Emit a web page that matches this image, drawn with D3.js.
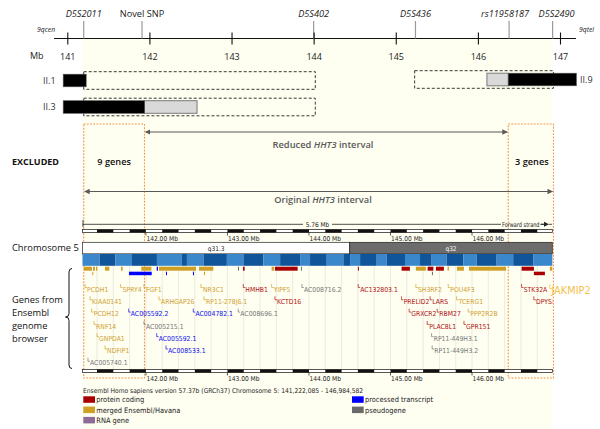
<!DOCTYPE html>
<html><head><meta charset="utf-8">
<script src="https://cdn.jsdelivr.net/npm/d3@7"></script>
<style>
body{margin:0;background:#fff}
svg{display:block}
.os{font-family:'Open Sans',sans-serif}
.ens{font-family:'DejaVu Sans Condensed','DejaVu Sans',sans-serif;font-stretch:condensed}
</style>
</head><body><svg id="c" width="600" height="429"></svg>
<script>
// ---------------- DATA ----------------
const axisTicks = [141, 142, 143, 144, 145, 146, 147];
const markerNames = ["D5S2011", "Novel SNP", "D5S402", "D5S436", "rs11958187", "D5S2490"];
const markerMb = [141.2, 141.91, 144.0, 145.24, 146.38, 146.91];
const markerItalic = [true, false, true, true, true, true];
const patients = ["II.1", "II.3", "II.9"];
const hapBlack = [[140.95, 141.23], [140.95, 141.94], [146.37, 147.2]];
const hapGray = [null, [141.94, 142.58], [146.11, 146.37]];
const hapUninformative = [[141.2, 144.02], [141.2, 144.02], [145.23, 146.92]];
const originalInterval = [141.2, 146.92];
const reducedInterval = [141.94, 146.37];
const excludedGenes = ["9 genes", "3 genes"];
const ensemblRange = [141222085, 146984582];
const ensemblTicks = [142, 143, 144, 145, 146];
const ideoNames = ["q31.3", "q32"];
const ideoStarts = [141.222, 144.5];
const ideoEnds = [144.5, 146.985];
const contigBreaks = [141.222, 141.432, 141.624, 141.829, 142.135, 142.441, 142.503, 142.706, 142.993,
  143.196, 143.441, 143.646, 143.891, 144.013, 144.218, 144.422, 144.504, 144.627, 144.831, 144.954,
  145.178, 145.362, 145.505, 145.689, 145.892, 146.057, 146.302, 146.505, 146.750, 146.985];
// [start Mb, end Mb, type, track row]  r=protein coding, m=merged, p=processed, g=pseudogene
const geneBlocks = [
  [141.240, 141.338, "m", 0], [141.351, 141.375, "m", 0], [141.388, 141.404, "m", 0],
  [141.498, 141.551, "m", 0], [141.694, 141.715, "m", 0], [141.943, 142.067, "m", 0],
  [142.132, 142.148, "p", 0], [142.160, 142.614, "m", 0], [142.651, 142.826, "m", 0],
  [143.129, 143.141, "g", 0], [143.190, 143.211, "r", 0], [143.542, 143.570, "m", 0],
  [143.582, 143.861, "r", 0], [143.901, 143.910, "g", 0], [144.600, 144.612, "r", 0],
  [145.136, 145.238, "r", 0], [145.311, 145.434, "m", 0], [145.455, 145.526, "r", 0],
  [145.557, 145.655, "r", 0], [145.700, 145.716, "m", 0], [145.815, 145.901, "m", 0],
  [145.963, 146.417, "m", 0], [146.608, 146.759, "r", 0], [146.955, 146.985, "m", 0],
  [141.342, 141.354, "m", 1], [141.792, 142.071, "p", 1], [142.246, 142.255, "p", 1],
  [142.577, 142.586, "p", 1], [142.712, 142.720, "m", 1], [145.508, 145.520, "g", 1],
  [146.759, 146.894, "r", 1]
];
// [name, Mb, label row, type]
const geneLabels = [
  ["PCDH1", 141.253, 0, "m"], ["SPRY4", 141.690, 0, "m"], ["FGF1", 141.976, 0, "m"],
  ["KIAA0141", 141.314, 1, "m"], ["ARHGAP26", 142.160, 1, "m"], ["PCDH12", 141.335, 2, "m"],
  ["AC005592.2", 141.789, 2, "p"], ["RNF14", 141.363, 3, "m"], ["AC005215.1", 141.976, 3, "g"],
  ["GNPDA1", 141.400, 4, "m"], ["AC005592.1", 142.132, 4, "p"], ["NDFIP1", 141.498, 5, "m"],
  ["AC008533.1", 142.246, 5, "p"], ["AC005740.1", 141.289, 6, "g"],
  ["NR3C1", 142.675, 0, "m"], ["HMHB1", 143.194, 0, "r"], ["YIPF5", 143.542, 0, "m"],
  ["AC008716.2", 143.913, 0, "g"], ["AC132803.1", 144.604, 0, "r"],
  ["RP11-278J6.1", 142.712, 1, "m"], ["KCTD16", 143.583, 1, "r"],
  ["AC004782.1", 142.581, 2, "p"], ["AC008696.1", 143.132, 2, "g"],
  ["SH3RF2", 145.311, 0, "m"], ["POU4F3", 145.708, 0, "m"], ["STK32A", 146.608, 0, "r"],
  ["PRELID2", 145.136, 1, "r"], ["LARS", 145.486, 1, "r"], ["TCERG1", 145.811, 1, "m"],
  ["DPYSL3", 146.758, 1, "r"], ["GRXCR2", 145.229, 2, "r"], ["RBM27", 145.573, 2, "r"],
  ["PPP2R2B", 145.953, 2, "m"], ["PLAC8L1", 145.450, 3, "r"], ["GPR151", 145.901, 3, "r"],
  ["RP11-449H3.1", 145.504, 4, "g"], ["RP11-449H3.2", 145.511, 5, "g"]
];
const highlightGene = ["JAKMIP2", 146.955];
const legendNames = ["protein coding", "merged Ensembl/Havana", "RNA gene", "processed transcript", "pseudogene"];
const legendTypes = ["r", "m", "n", "p", "g"];

// ---------------- STYLE / LAYOUT ----------------
const typeFill = {r: "#a80000", m: "#cfa024", n: "#8e6b96", p: "#0000ff", g: "#6a6a6a"};
const typeText = {r: "#b01212", m: "#d2a232", n: "#8e6b96", p: "#1010ee", g: "#777777"};
const svg = d3.select("#c");
const xTop = d3.scaleLinear().domain([141, 147]).range([67.3, 560]);
const xEns = d3.scaleLinear().domain([ensemblRange[0] / 1e6, ensemblRange[1] / 1e6]).range([82.5, 552.3]);
const axisY = 38.5;

const defs = svg.append("defs");
defs.append("marker").attr("id", "ah").attr("viewBox", "0 0 10 10").attr("refX", 9).attr("refY", 5)
  .attr("markerWidth", 5).attr("markerHeight", 5).attr("orient", "auto-start-reverse")
  .append("path").attr("d", "M0,0L10,5L0,10z").attr("fill", "#595959");
defs.append("clipPath").attr("id", "panelClip").append("rect")
  .attr("x", xEns.range()[0]).attr("y", 200).attr("width", xEns.range()[1] - xEns.range()[0]).attr("height", 229);

// cream background
svg.append("rect").attr("x", xEns.range()[0]).attr("y", axisY).attr("width", xEns.range()[1] - xEns.range()[0])
  .attr("height", 429 - axisY).attr("fill", "#fefef1");

// ---- top axis ----
svg.append("line").attr("x1", 54).attr("x2", 576).attr("y1", axisY).attr("y2", axisY).attr("stroke", "#111").attr("stroke-width", 1);
const mk = svg.append("g").attr("class", "os");
markerMb.forEach((m, i) => {
  mk.append("line").attr("x1", xTop(m)).attr("x2", xTop(m)).attr("y1", 21).attr("y2", axisY).attr("stroke", "#9a9a9a").attr("stroke-width", 1.2);
});
const labelNudge = [0, 0, 0, 0, -4, 4];
markerNames.forEach((n, i) => {
  mk.append("text").attr("x", xTop(markerMb[i]) + labelNudge[i]).attr("y", 17).attr("text-anchor", "middle")
    .attr("font-size", 9.2).attr("font-style", markerItalic[i] ? "italic" : "normal").attr("fill", "#222").text(n);
});
const axG = svg.append("g").attr("transform", `translate(0,${axisY})`)
  .call(d3.axisBottom(xTop).tickValues(axisTicks).tickSize(6).tickFormat(d3.format("d")));
axG.select(".domain").remove();
axG.selectAll(".tick line").attr("y1", -6).attr("y2", 6).attr("stroke", "#111").attr("stroke-width", 1.1);
axG.selectAll(".tick text").attr("y", 21).attr("dy", 0).attr("font-family", "'Open Sans',sans-serif").attr("font-size", 9).attr("fill", "#222");
svg.append("text").attr("class", "os").attr("x", 30).attr("y", 59).attr("font-size", 9).attr("fill", "#222").text("Mb");
svg.append("text").attr("class", "os").attr("x", 37).attr("y", 31.5).attr("font-size", 6.8).attr("font-style", "italic").attr("fill", "#222").text("9qcen");
svg.append("text").attr("class", "os").attr("x", 579).attr("y", 31.5).attr("font-size", 6.8).attr("font-style", "italic").attr("fill", "#222").text("9qtel");

// ---- haplotypes ----
const rowY = [80.5, 107, 79.5];
patients.forEach((p, i) => {
  const yc = rowY[i];
  const u = hapUninformative[i];
  svg.append("rect").attr("x", xTop(u[0])).attr("y", yc - 8.8).attr("width", xTop(u[1]) - xTop(u[0])).attr("height", 17.6)
    .attr("fill", "none").attr("stroke", "#222").attr("stroke-width", 0.9).attr("stroke-dasharray", "3,2");
  if (hapGray[i]) {
    const g = hapGray[i];
    svg.append("rect").attr("x", xTop(g[0])).attr("y", yc - 6.3).attr("width", xTop(g[1]) - xTop(g[0])).attr("height", 12.6)
      .attr("fill", "#d9d9d9").attr("stroke", "#7a7a7a").attr("stroke-width", 1);
  }
  const b = hapBlack[i];
  svg.append("rect").attr("x", xTop(b[0])).attr("y", yc - 6.3).attr("width", xTop(b[1]) - xTop(b[0])).attr("height", 12.6)
    .attr("fill", "#000").attr("stroke", "#555").attr("stroke-width", 0.6);
  const right = i === 2;
  svg.append("text").attr("class", "os").attr("x", right ? 580 : 43).attr("y", yc + 3.3).attr("font-size", 9).attr("fill", "#333").text(p);
});

// ---- intervals ----
const boxTop = 124, boxBot = 378;
[[originalInterval[0], reducedInterval[0]], [reducedInterval[1], originalInterval[1]]].forEach((b, i) => {
  svg.append("rect").attr("x", xTop(b[0])).attr("y", boxTop).attr("width", xTop(b[1]) - xTop(b[0])).attr("height", boxBot - boxTop)
    .attr("fill", "none").attr("stroke", "#f5964a").attr("stroke-width", 1.1).attr("stroke-dasharray", "1.8,1.4");
  svg.append("text").attr("class", "os").attr("x", (xTop(b[0]) + xTop(b[1])) / 2 + (i ? 1 : 0)).attr("y", 165)
    .attr("text-anchor", "middle").attr("font-size", 9.2).attr("font-weight", 600).attr("fill", "#111").text(excludedGenes[i]);
});
svg.append("text").attr("class", "os").attr("x", 12).attr("y", 165).attr("font-size", 9).attr("font-weight", 700).attr("fill", "#111").text("EXCLUDED");
const arrows = [[reducedInterval, 132, 147.5, "Reduced "], [originalInterval, 191.5, 202.5, "Original "]];
arrows.forEach(a => {
  svg.append("line").attr("x1", xTop(a[0][0]) + 1).attr("x2", xTop(a[0][1]) - 1).attr("y1", a[1]).attr("y2", a[1])
    .attr("stroke", "#595959").attr("stroke-width", 1.1).attr("marker-start", "url(#ah)").attr("marker-end", "url(#ah)");
  const t = svg.append("text").attr("class", "os").attr("x", 323).attr("y", a[2]).attr("text-anchor", "middle")
    .attr("font-size", 9.3).attr("font-weight", 600).attr("fill", "#5a5a5a");
  t.append("tspan").text(a[3]);
  t.append("tspan").attr("font-style", "italic").text("HHT3");
  t.append("tspan").text(" interval");
});

// ---- Ensembl panel ----
const ens = svg.append("g").attr("class", "ens");
const x0 = xEns.range()[0], x1 = xEns.range()[1];
// length line
ens.append("line").attr("x1", x0 + 0.5).attr("x2", x0 + 0.5).attr("y1", 220).attr("y2", 227).attr("stroke", "#222").attr("stroke-width", 0.8);
ens.append("line").attr("x1", x0).attr("x2", 303).attr("y1", 224.3).attr("y2", 224.3).attr("stroke", "#222").attr("stroke-width", 0.8);
ens.append("line").attr("x1", 332).attr("x2", 501).attr("y1", 224.3).attr("y2", 224.3).attr("stroke", "#222").attr("stroke-width", 0.8);
const lenMb = ((ensemblRange[1] - ensemblRange[0]) / 1e6).toFixed(2);
ens.append("text").attr("x", 317.5).attr("y", 226.5).attr("text-anchor", "middle").attr("font-size", 6.5).attr("fill", "#222").text(lenMb + " Mb");
ens.append("text").attr("x", 502).attr("y", 226.5).attr("font-size", 6.5).attr("fill", "#222")
  .attr("textLength", 37.5).attr("lengthAdjust", "spacingAndGlyphs").text("Forward strand");
ens.append("line").attr("x1", 540.5).attr("x2", 546).attr("y1", 224.3).attr("y2", 224.3).attr("stroke", "#222").attr("stroke-width", 1.2);
ens.append("path").attr("d", "M544,221.8L549,224.3L544,226.8z").attr("fill", "#222");
ens.append("line").attr("x1", 549).attr("x2", 552).attr("y1", 224.3).attr("y2", 224.3).attr("stroke", "#222").attr("stroke-width", 0.8);

function scaleBar(y, labelY) {
  const segs = d3.range(141.4, 147, 0.2).map(v => +v.toFixed(1));
  const g = ens.append("g");
  g.append("rect").attr("x", x0).attr("y", y).attr("width", x1 - x0).attr("height", 3).attr("fill", "#fff").attr("stroke", "#111").attr("stroke-width", 0.7);
  segs.forEach((s, i) => {
    if (i % 2 === 0) {
      const e = Math.min(s + 0.2, xEns.domain()[1]);
      g.append("rect").attr("x", xEns(s)).attr("y", y).attr("width", xEns(e) - xEns(s)).attr("height", 3).attr("fill", "#111");
    }
  });
  ensemblTicks.forEach(t => {
    g.append("line").attr("x1", xEns(t)).attr("x2", xEns(t)).attr("y1", y + 3).attr("y2", y + 6).attr("stroke", "#111").attr("stroke-width", 0.7);
    g.append("text").attr("x", xEns(t) + 0.5).attr("y", labelY).attr("font-size", 6.6).attr("fill", "#222").text(t.toFixed(2) + " Mb");
  });
}
scaleBar(229.5, 240.8);
scaleBar(369.5, 380.8);

// ideogram
ideoNames.forEach((n, i) => {
  ens.append("rect").attr("x", xEns(Math.max(ideoStarts[i], xEns.domain()[0]))).attr("y", 242.3)
    .attr("width", xEns(Math.min(ideoEnds[i], xEns.domain()[1])) - xEns(Math.max(ideoStarts[i], xEns.domain()[0]))).attr("height", 11.5)
    .attr("fill", i === 0 ? "#ffffff" : "#6c6c6c").attr("stroke", "#222").attr("stroke-width", 0.7);
  ens.append("text").attr("x", (xEns(Math.max(ideoStarts[i], xEns.domain()[0])) + xEns(Math.min(ideoEnds[i], xEns.domain()[1]))) / 2)
    .attr("y", 250.5).attr("text-anchor", "middle").attr("font-size", 6.5).attr("fill", i === 0 ? "#222" : "#fff").text(n);
});
// contigs
for (let i = 0; i < contigBreaks.length - 1; i++) {
  ens.append("rect").attr("x", xEns(contigBreaks[i])).attr("y", 254).attr("width", xEns(contigBreaks[i + 1]) - xEns(contigBreaks[i]))
    .attr("height", 11.8).attr("fill", i % 2 === 0 ? "#3a87cc" : "#10549a");
}
// gridlines
d3.range(141.4, 147, 0.2).forEach(v => {
  ens.append("line").attr("x1", xEns(v)).attr("x2", xEns(v)).attr("y1", 266).attr("y2", 369).attr("stroke", "#e4e4da").attr("stroke-width", 0.8);
});
// gene blocks
const trackY = [266.7, 271.7];
ens.append("g").selectAll("rect").data(geneBlocks).join("rect")
  .attr("x", d => xEns(d[0])).attr("y", d => trackY[d[3]])
  .attr("width", d => Math.max(1, xEns(d[1]) - xEns(d[0]))).attr("height", d => d[3] ? 3.5 : 4)
  .attr("fill", d => typeFill[d[2]]);
// gene labels
const labRowY = r => 289 + r * 12.3;
const lg = ens.append("g").attr("clip-path", "url(#panelClip)");
geneLabels.forEach(d => {
  const x = xEns(d[1]), y = labRowY(d[2]);
  lg.append("path").attr("d", `M${x},${y - 5}V${y - 1.5}H${x + 2}`).attr("fill", "none").attr("stroke", typeText[d[3]]).attr("stroke-width", 0.7);
  lg.append("text").attr("x", x + 2.1).attr("y", y + 2.6).attr("font-size", 6.8).attr("fill", typeText[d[3]]).text(d[0]);
});
{
  const x = xEns(highlightGene[1]), y = 290.5;
  svg.append("path").attr("d", `M${x},${y - 6}V${y - 2}H${x + 2}`).attr("fill", "none").attr("stroke", "#f5c04a").attr("stroke-width", 0.8);
  svg.append("text").attr("x", x + 1.5).attr("y", y + 3.8).attr("font-family", "'DejaVu Sans',sans-serif").attr("font-size", 9.8).attr("fill", "#f5c04a").text(highlightGene[0]);
}
// caption
ens.append("text").attr("x", x0 + 0.5).attr("y", 392.5).attr("font-size", 6.65).attr("fill", "#222")
  .text(`Ensembl Homo sapiens version 57.37b (GRCh37) Chromosome 5: ${d3.format(",")(ensemblRange[0])} - ${d3.format(",")(ensemblRange[1])}`);
// legend
const legX = [x0 + 0.8, 352], legY = [396.3, 406.6, 416.9];
legendNames.forEach((n, i) => {
  const col = i < 3 ? 0 : 1, row = i < 3 ? i : i - 3;
  ens.append("rect").attr("x", legX[col]).attr("y", legY[row]).attr("width", 11.7).attr("height", 6.5).attr("fill", typeFill[legendTypes[i]]);
  ens.append("text").attr("x", legX[col] + 13).attr("y", legY[row] + 6).attr("font-size", 7.4).attr("fill", "#222").text(n);
});

// ---- left labels ----
const lab = svg.append("g").attr("class", "os").attr("font-size", 9.3).attr("fill", "#111");
lab.append("text").attr("x", 12).attr("y", 250.5).text("Chromosome 5");
["Genes from", "Ensembl", "genome", "browser"].forEach((t, i) => lab.append("text").attr("x", 12).attr("y", 303 + i * 13).text(t));
svg.append("path").attr("d", "M72,268.5 Q69,268.5 69,272 V313.5 Q69,317 65.5,317 Q69,317 69,320.5 V365 Q69,368.5 72,368.5")
  .attr("fill", "none").attr("stroke", "#111").attr("stroke-width", 1);
</script>
</body></html>
